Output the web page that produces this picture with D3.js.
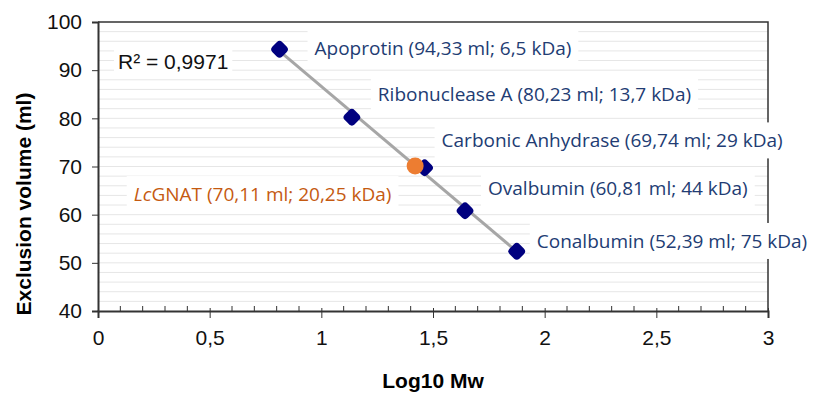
<!DOCTYPE html>
<html>
<head>
<meta charset="utf-8">
<script src="https://cdn.jsdelivr.net/npm/d3@7"></script>
<style>
  html, body { margin: 0; padding: 0; background: #fff; }
  svg { display: block; }
</style>
</head>
<body>
<svg id="chart" width="814" height="394"></svg>
<script>
// standards: name, Mw (kDa), elution volume (ml)
var proteins = ['Apoprotin', 'Ribonuclease A', 'Carbonic Anhydrase', 'Ovalbumin', 'Conalbumin'];
var massKDa  = [6.5, 13.7, 29, 44, 75];
var volumes  = [94.33, 80.23, 69.74, 60.81, 52.39];
var massText = ['6,5', '13,7', '29', '44', '75'];
var volText  = ['94,33', '80,23', '69,74', '60,81', '52,39'];

// sample (x, it sits on the fit line)
var sampleX = 1.42;
var sampleVol = 70.11;
var sampleLabel = ['Lc', 'GNAT (70,11 ml; 20,25 kDa)'];

var xTicks = [0, 0.5, 1, 1.5, 2, 2.5, 3];
var yTicks = [40, 50, 60, 70, 80, 90, 100];
var r2Text = 'R² = 0,9971';

// label offsets from the marker, px (layout only)
var labelOffsets = [[35, -1], [26, -23], [17, -27], [23, -22], [20, -10]];

var svg = d3.select('#chart');
var m = {left: 98, right: 46, top: 22, bottom: 83};
var W = 814, H = 394;
var pw = W - m.left - m.right, ph = H - m.top - m.bottom;

var x = d3.scaleLinear().domain([0, 3]).range([m.left, m.left + pw]);
var y = d3.scaleLinear().domain([40, 100]).range([m.top + ph, m.top]);

var fmt = function(d) { return String(d).replace('.', ','); };
var navy = '#00007f', labelCol = '#223c73', orange = '#ed7d31';

var pts = massKDa.map(function(k, i) { return {x: Math.log10(k), y: volumes[i], i: i}; });

// minor grid every 2 ml
var grid = svg.append('g');
grid.selectAll('line').data(d3.range(42, 100, 2)).enter().append('line')
  .attr('x1', x(0)).attr('x2', x(3))
  .attr('y1', function(d) { return y(d); }).attr('y2', function(d) { return y(d); })
  .attr('stroke', '#e6e6e6').attr('stroke-width', 1);

// frame (top & right)
svg.append('path')
  .attr('d', 'M' + x(0) + ',' + y(100) + 'H' + x(3) + 'V' + y(40))
  .attr('fill', 'none').attr('stroke', '#333').attr('stroke-width', 1.5);

// axes
var yAxis = d3.axisLeft(y).tickValues(yTicks).tickSize(6).tickPadding(10);
var gy = svg.append('g').attr('transform', 'translate(' + x(0) + ',0)').call(yAxis);
gy.select('.domain').attr('stroke', '#333').attr('stroke-width', 2);
gy.selectAll('.tick line').attr('stroke', '#333');
gy.selectAll('text').attr('font-family', 'Arial, Liberation Sans, sans-serif').attr('font-size', 21).attr('fill', '#111');

var xAxis = d3.axisBottom(x).tickValues(xTicks).tickSize(7).tickPadding(12).tickFormat(fmt);
var gx = svg.append('g').attr('transform', 'translate(0,' + y(40) + ')').call(xAxis);
gx.select('.domain').attr('stroke', '#333').attr('stroke-width', 2);
gx.selectAll('.tick line').attr('stroke', '#333').attr('y1', -3);
gx.selectAll('text').attr('font-family', 'Arial, Liberation Sans, sans-serif').attr('font-size', 21).attr('fill', '#111');
// minor ticks pointing in
gx.selectAll('.minor').data(d3.range(1, 30).filter(function(d) { return d % 5 !== 0; }).map(function(d) { return d / 10; }))
  .enter().append('line').attr('class', 'minor')
  .attr('x1', function(d) { return x(d); }).attr('x2', function(d) { return x(d); })
  .attr('y1', 0).attr('y2', -5).attr('stroke', '#333');

// axis titles
svg.append('text').attr('x', x(1.5)).attr('y', 388).attr('text-anchor', 'middle')
  .attr('font-family', 'Arial, Liberation Sans, sans-serif').attr('font-weight', 'bold').attr('font-size', 21)
  .text('Log10 Mw');
svg.append('text').attr('transform', 'translate(31,204) rotate(-90)').attr('text-anchor', 'middle')
  .attr('font-family', 'Arial, Liberation Sans, sans-serif').attr('font-weight', 'bold').attr('font-size', 21)
  .text('Exclusion volume (ml)');

// linear fit
var fit = d3.mean(pts, function(p) { return p.x; });
var my = d3.mean(pts, function(p) { return p.y; });
var sxy = d3.sum(pts, function(p) { return (p.x - fit) * (p.y - my); });
var sxx = d3.sum(pts, function(p) { return (p.x - fit) * (p.x - fit); });
var slope = sxy / sxx, icpt = my - slope * fit;
var xe = d3.extent(pts, function(p) { return p.x; });
svg.append('line')
  .attr('x1', x(xe[0])).attr('y1', y(icpt + slope * xe[0]))
  .attr('x2', x(xe[1])).attr('y2', y(icpt + slope * xe[1]))
  .attr('stroke', '#a6a6a6').attr('stroke-width', 3);

// label helper: text with white box behind
var labels = svg.append('g');
function addLabel(px, py, parts, col) {
  var g = labels.append('g');
  var rect = g.append('rect').attr('fill', '#fff');
  var t = g.append('text').attr('x', px).attr('y', py).attr('dy', '0.35em')
    .attr('font-family', 'Open Sans, sans-serif').attr('font-size', 19).attr('fill', col);
  parts.forEach(function(p) {
    t.append('tspan').attr('font-style', p.italic ? 'italic' : null).text(p.text);
  });
  var b = t.node().getBBox();
  rect.attr('x', b.x - 7).attr('y', b.y - 5).attr('width', b.width + 14).attr('height', b.height + 10);
}

pts.forEach(function(p, i) {
  var o = labelOffsets[i];
  addLabel(x(p.x) + o[0], y(p.y) + o[1],
    [{text: proteins[i] + ' (' + volText[i] + ' ml; ' + massText[i] + ' kDa)'}], labelCol);
});
addLabel(x(0.16), y(64.2), [{text: sampleLabel[0], italic: true}, {text: sampleLabel[1]}], '#c55a11');

// R2
var rg = svg.append('g');
var rr = rg.append('rect').attr('fill', '#fff');
var rt = rg.append('text').attr('x', 118).attr('y', 62).attr('dy', '0.35em')
  .attr('font-family', 'Arial, Liberation Sans, sans-serif').attr('font-size', 21).attr('fill', '#111')
  .text(r2Text);
var rb = rt.node().getBBox();
rr.attr('x', rb.x - 4).attr('y', rb.y - 4).attr('width', rb.width + 8).attr('height', rb.height + 8);

// markers
svg.append('g').selectAll('rect').data(pts).enter().append('rect')
  .attr('x', -7).attr('y', -7).attr('width', 14).attr('height', 14).attr('rx', 4)
  .attr('transform', function(p) { return 'translate(' + x(p.x) + ',' + y(p.y) + ') rotate(45)'; })
  .attr('fill', navy);

svg.append('circle').attr('cx', x(sampleX)).attr('cy', y(sampleVol)).attr('r', 8.5).attr('fill', orange);
</script>
</body>
</html>
